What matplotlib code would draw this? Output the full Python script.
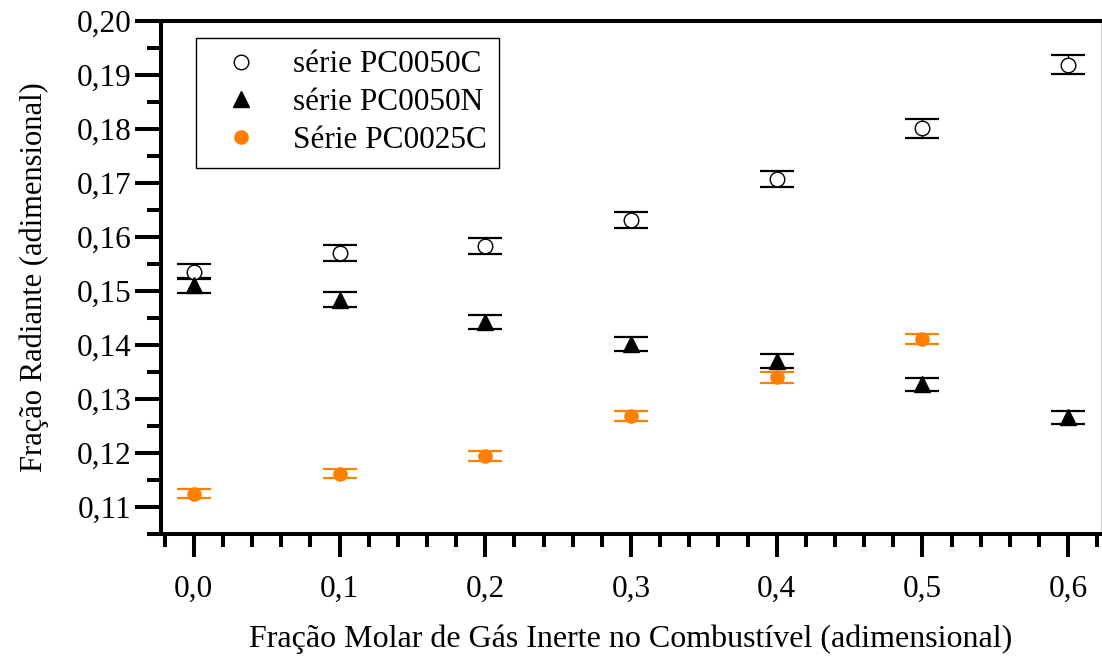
import matplotlib
matplotlib.use("Agg")
import matplotlib.pyplot as plt
from matplotlib.ticker import MultipleLocator, FuncFormatter

# Molar fraction of inert gas in the fuel
x_c50 = [0.0, 0.1, 0.2, 0.3, 0.4, 0.5, 0.6]
x_n50 = [0.0, 0.1, 0.2, 0.3, 0.4, 0.5, 0.6]
x_c25 = [0.0, 0.1, 0.2, 0.3, 0.4, 0.5]

# Radiant fraction and its uncertainty for each series
y_c50 = [0.1536, 0.1571, 0.1584, 0.1632, 0.1707, 0.1801, 0.1919]
e_c50 = [0.0014, 0.0015, 0.0015, 0.0015, 0.0015, 0.0017, 0.0018]

y_n50 = [0.1511, 0.1484, 0.1442, 0.1401, 0.1370, 0.1327, 0.1266]
e_n50 = [0.0014, 0.0014, 0.0013, 0.0013, 0.0013, 0.0012, 0.0012]

y_c25 = [0.1125, 0.1162, 0.1195, 0.1269, 0.1340, 0.1411]
e_c25 = [0.0009, 0.0009, 0.0009, 0.0009, 0.0010, 0.0010]

labels = ["série PC0050C", "série PC0050N", "Série PC0025C"]
x_ticks_major = 0.1
x_ticks_minor = 0.02
y_ticks_major = 0.01
y_ticks_minor = 0.005

ORANGE = "#ff8000"

plt.rcParams["font.family"] = ["Liberation Serif", "DejaVu Serif"]

fig = plt.figure(figsize=(11.02, 6.56), dpi=100)
ax = fig.add_axes([161 / 1102, 1 - 534 / 656, (1101 - 161) / 1102, (534 - 21) / 656])

err_kw = dict(fmt="none", elinewidth=0.9, capsize=12, capthick=1.6, zorder=2)
ax.errorbar(x_c50, y_c50, yerr=e_c50, ecolor="black", **err_kw)
ax.errorbar(x_n50, y_n50, yerr=e_n50, ecolor="black", **err_kw)
ax.errorbar(x_c25, y_c25, yerr=e_c25, ecolor=ORANGE, **err_kw)

ax.plot(x_c50, y_c50, linestyle="none", marker="o", markersize=10.5,
        markerfacecolor="white", markeredgecolor="black", markeredgewidth=1.0,
        label=labels[0], zorder=3)
ax.plot(x_n50, y_n50, linestyle="none", marker="^", markersize=12,
        color="black", label=labels[1], zorder=3)
ax.plot(x_c25, y_c25, linestyle="none", marker="o", markersize=10.5,
        color=ORANGE, markeredgewidth=0, label=labels[2], zorder=3)

ax.set_xlim(-0.0225, 0.6225)
ax.set_ylim(0.105, 0.20)

ax.xaxis.set_major_locator(MultipleLocator(x_ticks_major))
ax.xaxis.set_minor_locator(MultipleLocator(x_ticks_minor))
ax.yaxis.set_major_locator(MultipleLocator(y_ticks_major))
ax.yaxis.set_minor_locator(MultipleLocator(y_ticks_minor))
ax.xaxis.set_major_formatter(FuncFormatter(lambda v, p: f"{v:.1f}".replace(".", ",")))
ax.yaxis.set_major_formatter(FuncFormatter(lambda v, p: f"{v:.2f}".replace(".", ",")))

ax.tick_params(which="both", direction="out", width=2.9, top=False, right=False,
               labelsize=22.5, colors="black")
ax.tick_params(axis="y", which="major", length=18.5, pad=3)
ax.tick_params(axis="y", which="minor", length=10)
ax.tick_params(axis="x", which="major", length=16.5, pad=13)
ax.tick_params(axis="x", which="minor", length=9)

for side in ("left", "bottom", "top"):
    ax.spines[side].set_linewidth(2.9)
    ax.spines[side].set_color("black")
ax.spines["right"].set_linewidth(0.8)
ax.spines["right"].set_color("#d0d0d0")

ax.set_xlabel("Fração Molar de Gás Inerte no Combustível (adimensional)",
              fontsize=23, labelpad=15)
ax.set_ylabel("Fração Radiante (adimensional)", fontsize=22, labelpad=20)

leg = ax.legend(loc="upper left", bbox_to_anchor=((196 - 161) / 940, 1 - (38 - 21) / 513),
                fontsize=22.5, frameon=True, fancybox=False, edgecolor="black",
                framealpha=1, borderpad=0.4, handletextpad=0.6, labelspacing=0.28,
                handlelength=2.1, borderaxespad=0)
leg.get_frame().set_linewidth(1.0)

fig.savefig("out.png", dpi=100)
